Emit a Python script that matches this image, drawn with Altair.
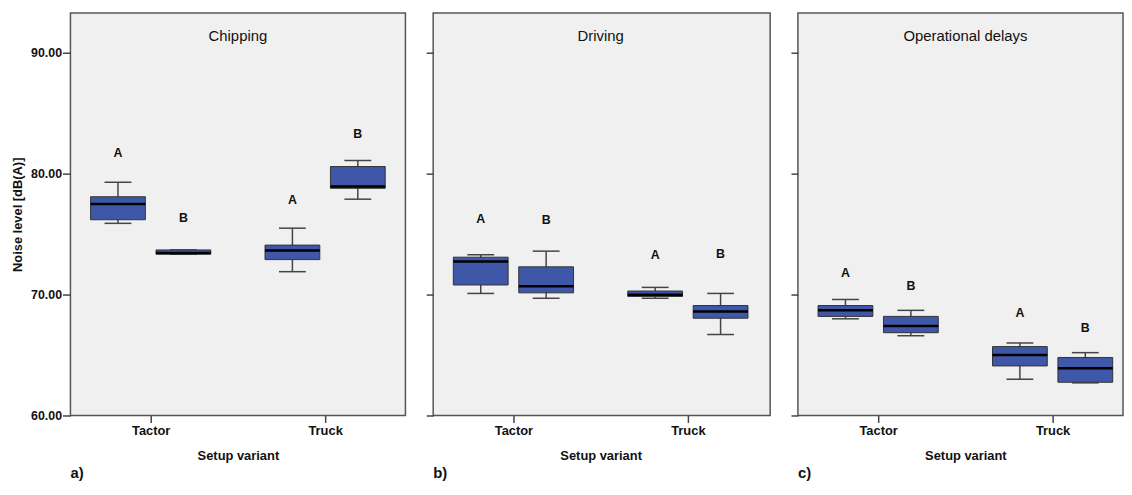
import altair as alt
import pandas as pd

# ---------------- data ----------------
panels = ["Chipping", "Driving", "Operational delays"]
panel_tags = ["a)", "b)", "c)"]
variants = ["Tactor", "Truck"]
groups = ["A", "B"]

# order: panel -> variant -> group
lower_whisker = [75.9, 73.35, 71.9, 77.9, 70.1, 69.7, 69.7, 66.7, 68.0, 66.6, 63.0, 62.7]
q1 = [76.2, 73.35, 72.9, 78.8, 70.8, 70.15, 69.85, 68.05, 68.2, 66.85, 64.1, 62.75]
median = [77.5, 73.45, 73.65, 78.95, 72.75, 70.7, 70.0, 68.6, 68.7, 67.4, 65.0, 63.9]
q3 = [78.1, 73.7, 74.1, 80.6, 73.1, 72.3, 70.3, 69.1, 69.1, 68.2, 65.7, 64.8]
upper_whisker = [79.3, 73.7, 75.5, 81.1, 73.3, 73.6, 70.6, 70.1, 69.6, 68.7, 66.0, 65.2]
letter_y = [81.75, 76.3, 77.8, 83.25, 76.25, 76.2, 73.3, 73.35, 71.8, 70.75, 68.45, 67.2]

y_ticks = [60, 70, 80, 90]
y_domain = [60, 93.3]

# ---------------- layout constants ----------------
GROUP_OFFSET = 0.1875
BOX_HALF = 0.157
CAP_HALF = 0.077
X_LEFT = 0.54
PX_PER_UNIT = 176.0
H = 406
WIDTHS = [338, 340, 328]

BOX_FILL = "#3F57A8"
DARK = "#444444"
FONT = "Liberation Sans"

rows = []
i = 0
for p in panels:
    for vi, v in enumerate(variants):
        for gi, g in enumerate(groups):
            xc = vi + 1 + (-GROUP_OFFSET if gi == 0 else GROUP_OFFSET)
            rows.append(dict(panel=p, variant=v, group=g, xc=xc,
                             box_lo=xc - BOX_HALF, box_hi=xc + BOX_HALF,
                             cap_lo=xc - CAP_HALF, cap_hi=xc + CAP_HALF,
                             lw=lower_whisker[i], q1=q1[i], med=median[i],
                             q3=q3[i], uw=upper_whisker[i], ly=letter_y[i]))
            i += 1
df = pd.DataFrame(rows)

label_expr = " : ".join(
    [f"datum.value == {k + 1} ? '{v}'" for k, v in enumerate(variants[:-1])]
) + f" : '{variants[-1]}'"

yscale = alt.Scale(domain=y_domain, nice=False, zero=False)
CENTER_PX = (1.5 - X_LEFT) * PX_PER_UNIT  # middle of the (uncropped) panel


def panel_chart(k):
    p = panels[k]
    d = df[df.panel == p]
    base = alt.Chart(d)
    first = k == 0
    xscale = alt.Scale(domain=[X_LEFT, X_LEFT + WIDTHS[k] / PX_PER_UNIT],
                       nice=False, zero=False)
    xaxis = alt.Axis(values=[1, 2], labelExpr=label_expr, title="Setup variant",
                     grid=False, domain=False, ticks=True, tickSize=7,
                     tickColor=DARK, tickWidth=1.5, labelFont=FONT,
                     labelFontSize=13, labelFontWeight="bold", labelColor="#111",
                     labelPadding=2, titleFont=FONT, titleFontSize=13,
                     titleFontWeight="bold", titleColor="#111", titlePadding=12,
                     titleX=CENTER_PX, titleAlign="center")
    if first:
        yaxis = alt.Axis(values=y_ticks, format=".2f", title="Noise level [dB(A)]",
                         grid=False, domain=False, tickSize=8, tickColor=DARK,
                         tickWidth=1.5, labelFont=FONT, labelFontSize=12.5,
                         labelFontWeight="bold", labelColor="#111", labelPadding=1,
                         titleFont=FONT, titleFontSize=13, titleFontWeight="bold",
                         titleColor="#111", titlePadding=6)
    else:
        yaxis = alt.Axis(values=y_ticks, labels=False, title=None, grid=False,
                         domain=False, tickSize=7, tickColor=DARK, tickWidth=1.5)

    whisk = base.mark_rule(color=DARK, strokeWidth=1.5).encode(
        x=alt.X("xc:Q", scale=xscale, axis=xaxis),
        y=alt.Y("lw:Q", scale=yscale, axis=yaxis),
        y2="uw:Q",
    )
    cap_hi = base.mark_rule(color=DARK, strokeWidth=1.5).encode(
        x=alt.X("cap_lo:Q", scale=xscale), x2="cap_hi:Q",
        y=alt.Y("uw:Q", scale=yscale),
    )
    cap_lo = base.mark_rule(color=DARK, strokeWidth=1.5).encode(
        x=alt.X("cap_lo:Q", scale=xscale), x2="cap_hi:Q",
        y=alt.Y("lw:Q", scale=yscale),
    )
    box = base.mark_rect(fill=BOX_FILL, stroke="#333333", strokeWidth=1).encode(
        x=alt.X("box_lo:Q", scale=xscale), x2="box_hi:Q",
        y=alt.Y("q1:Q", scale=yscale), y2="q3:Q",
    )
    med = base.mark_rule(color="#000000", strokeWidth=2.5).encode(
        x=alt.X("box_lo:Q", scale=xscale), x2="box_hi:Q",
        y=alt.Y("med:Q", scale=yscale),
    )
    letters = base.mark_text(font=FONT, fontSize=12.5, fontWeight="bold",
                             color="#111", baseline="middle").encode(
        x=alt.X("xc:Q", scale=xscale),
        y=alt.Y("ly:Q", scale=yscale),
        text="group:N",
    )
    title = alt.Chart(pd.DataFrame({"t": [p]})).mark_text(
        font=FONT, fontSize=15, color="#111", baseline="middle", align="center"
    ).encode(x=alt.value(CENTER_PX), y=alt.value(23), text="t:N")
    tag = alt.Chart(pd.DataFrame({"t": [panel_tags[k]]})).mark_text(
        font=FONT, fontSize=15, fontWeight="bold", color="#111",
        baseline="bottom", align="left"
    ).encode(x=alt.value(0), y=alt.value(H + 66), text="t:N")

    return alt.layer(whisk, cap_hi, cap_lo, box, med, letters, title, tag).properties(
        width=WIDTHS[k], height=H
    )


chart = alt.hconcat(*[panel_chart(k) for k in range(3)], spacing=18).properties(
    padding={"left": 2, "top": 2, "right": 0, "bottom": 0},
    background="white",
).configure_view(
    fill="#F0F0F0", stroke="#555555", strokeWidth=1.5
)

chart.save("out.html", embed_options={"renderer": "svg", "actions": False})
